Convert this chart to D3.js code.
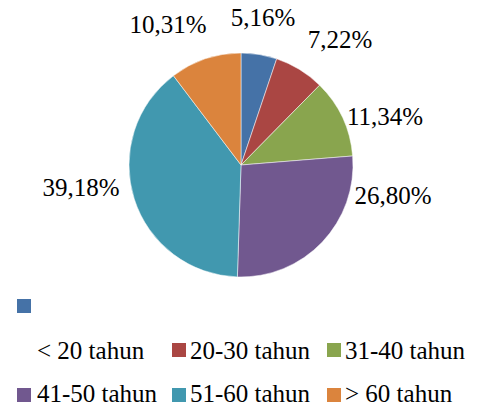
<!DOCTYPE html>
<html>
<head>
<meta charset="utf-8">
<script src="https://cdn.jsdelivr.net/npm/d3@7"></script>
</head>
<body style="margin:0">
<span style="font-family:'Liberation Serif';font-size:25px;visibility:hidden;position:absolute;left:0;top:0">0</span>
<div id="chart" style="position:relative;width:477px;height:407px"></div>
<script>
// data
var categories = ["< 20 tahun", "20-30 tahun", "31-40 tahun", "41-50 tahun", "51-60 tahun", "> 60 tahun"];
var percents = [5.16, 7.22, 11.34, 26.80, 39.18, 10.31];
var colors = ["#4572A7", "#AA4643", "#89A54E", "#71588F", "#4198AF", "#DB843D"];

var width = 477, height = 407;
var cx = 241, cy = 165, radius = 112;
var serif = "'Liberation Serif', 'Times New Roman', serif";

// make sure the serif face is requested early
if (document.fonts && document.fonts.load) {
  document.fonts.load("25px 'Liberation Serif'");
}

var chart = d3.select("#chart");

var svg = chart
  .append("svg")
  .attr("width", width)
  .attr("height", height)
  .style("position", "absolute")
  .style("left", 0)
  .style("top", 0);

var pie = d3.pie().sort(null).value(function (d) { return d; });
var arcs = pie(percents);
var arc = d3.arc().innerRadius(0).outerRadius(radius);

var g = svg.append("g").attr("transform", "translate(" + cx + "," + cy + ")");

g.selectAll("path")
  .data(arcs)
  .join("path")
  .attr("d", arc)
  .attr("fill", function (d, i) { return colors[i]; })
  .attr("stroke", "#fff")
  .attr("stroke-width", 0.5);

// legend swatches (first entry wraps oddly like the original)
var legendLayout = [
  { sx: 17, sy: 299, tx: 37, ty: 359 },
  { sx: 172, sy: 343, tx: 190, ty: 359 },
  { sx: 327, sy: 343, tx: 345, ty: 359 },
  { sx: 17, sy: 388, tx: 37, ty: 402 },
  { sx: 172, sy: 388, tx: 190, ty: 402 },
  { sx: 327, sy: 388, tx: 345, ty: 402 }
];

svg.append("g").selectAll("rect")
  .data(categories)
  .join("rect")
  .attr("x", function (d, i) { return legendLayout[i].sx; })
  .attr("y", function (d, i) { return legendLayout[i].sy; })
  .attr("width", 14)
  .attr("height", 14)
  .attr("fill", function (d, i) { return colors[i]; });

// text as html on top of the svg
var labelPos = [[22, -148], [99, -126], [144, -49], [152, 30], [-160, 22], [-73, -141]];
function fmt(v) { return v.toFixed(2).replace(".", ",") + "%"; }

chart.selectAll("div.lbl")
  .data(arcs)
  .join("div")
  .attr("class", "lbl")
  .style("position", "absolute")
  .style("font-family", serif)
  .style("font-size", "25px")
  .style("line-height", "1")
  .style("white-space", "nowrap")
  .style("color", "#000")
  .style("transform", "translate(-50%, -50%)")
  .style("left", function (d, i) { return (cx + labelPos[i][0]) + "px"; })
  .style("top", function (d, i) { return (cy + labelPos[i][1]) + "px"; })
  .text(function (d) { return fmt(d.data); });

var legendSize = 25;
chart.selectAll("div.leg")
  .data(categories)
  .join("div")
  .attr("class", "leg")
  .style("position", "absolute")
  .style("font-family", serif)
  .style("font-size", legendSize + "px")
  .style("line-height", "1")
  .style("white-space", "nowrap")
  .style("color", "#000")
  .style("left", function (d, i) { return legendLayout[i].tx + "px"; })
  .style("top", function (d, i) { return (legendLayout[i].ty - legendSize * 0.84) + "px"; })
  .text(function (d) { return d; });
</script>
</body>
</html>
